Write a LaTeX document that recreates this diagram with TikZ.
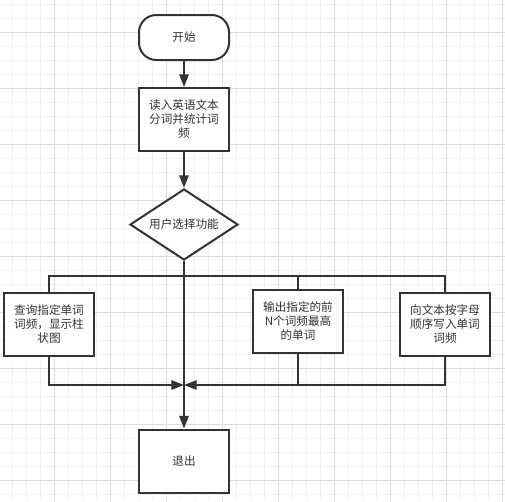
\documentclass[tikz,border=0pt]{standalone}
\usepackage{fontspec}
\setmainfont{Noto Sans CJK SC}
\usetikzlibrary{shapes.geometric, arrows.meta}
\definecolor{ink}{HTML}{333333}
\definecolor{gridlo}{HTML}{EFEFEF}
\definecolor{gridhi}{HTML}{DCDCDC}
\newcommand\fsz{\fontsize{8.7pt}{10.5pt}\selectfont}

\begin{document}
\begin{tikzpicture}[x=0.75pt, y=-0.75pt,
      term/.style={draw=ink, fill=white, line width=1.5pt, rounded corners=13pt, minimum width=67.5pt, minimum height=33.75pt, text=ink, font=\fsz},
      proc/.style={draw=ink, fill=white, line width=1.5pt, minimum width=67.5pt, minimum height=47.25pt, align=center, inner sep=1pt, text=ink, font=\fsz},
      dec/.style={draw=ink, fill=white, line width=1.5pt, diamond, aspect=1.5, inner sep=0pt, minimum width=81pt, minimum height=53.25pt, text=ink, font=\fsz},
      ln/.style={draw=ink, line width=1.4pt},
      arr/.style={ln, -{Triangle[length=9.5pt,width=7pt]}}]
      \useasboundingbox (0,0) rectangle (505,501);
      % background grid
      \foreach \i in {0,...,35} {
        \draw[gridlo, line width=0.75pt] ({12.3+14*\i},0) -- ({12.3+14*\i},501);
        \draw[gridlo, line width=0.75pt] (0,{4.3+14*\i}) -- (505,{4.3+14*\i});}
      \foreach \i in {0,...,9} {
        \draw[gridhi, line width=0.75pt] ({-1.7+56*\i},0) -- ({-1.7+56*\i},501);
        \draw[gridhi, line width=0.75pt] (0,{32.3+56*\i}) -- (505,{32.3+56*\i});}
      \node[term] (start) at (184,37.5) {开始};
      \node[proc] (read) at (184,119.5) {读入英语文本\\分词并统计词\\频};
      \node[dec] (choose) at (184,224.5) {用户选择功能};
      \node[proc] (query) at (49,324.5) {查询指定单词\\词频，显示柱\\状图};
      \node[proc] (topn) at (298,321) {输出指定的前\\N个词频最高\\的单词};
      \node[proc] (write) at (445,324.5) {向文本按字母\\顺序写入单词\\词频};
      \node[proc] (quit) at (184,461) {退出};
      \coordinate (split) at (184,276); \coordinate (join) at (184,385);
      \draw[arr](start)--(read); \draw[arr](read)--(choose); \draw[arr](choose)--(quit);
      \draw[ln](split)-|(query); \draw[ln](split)-|(topn); \draw[ln](split)-|(write);
      \draw[arr](query)|-(join); \draw[arr](write)|-(join);
      \draw[ln](topn)--(topn.south |- join);
    \end{tikzpicture}
\end{document}
